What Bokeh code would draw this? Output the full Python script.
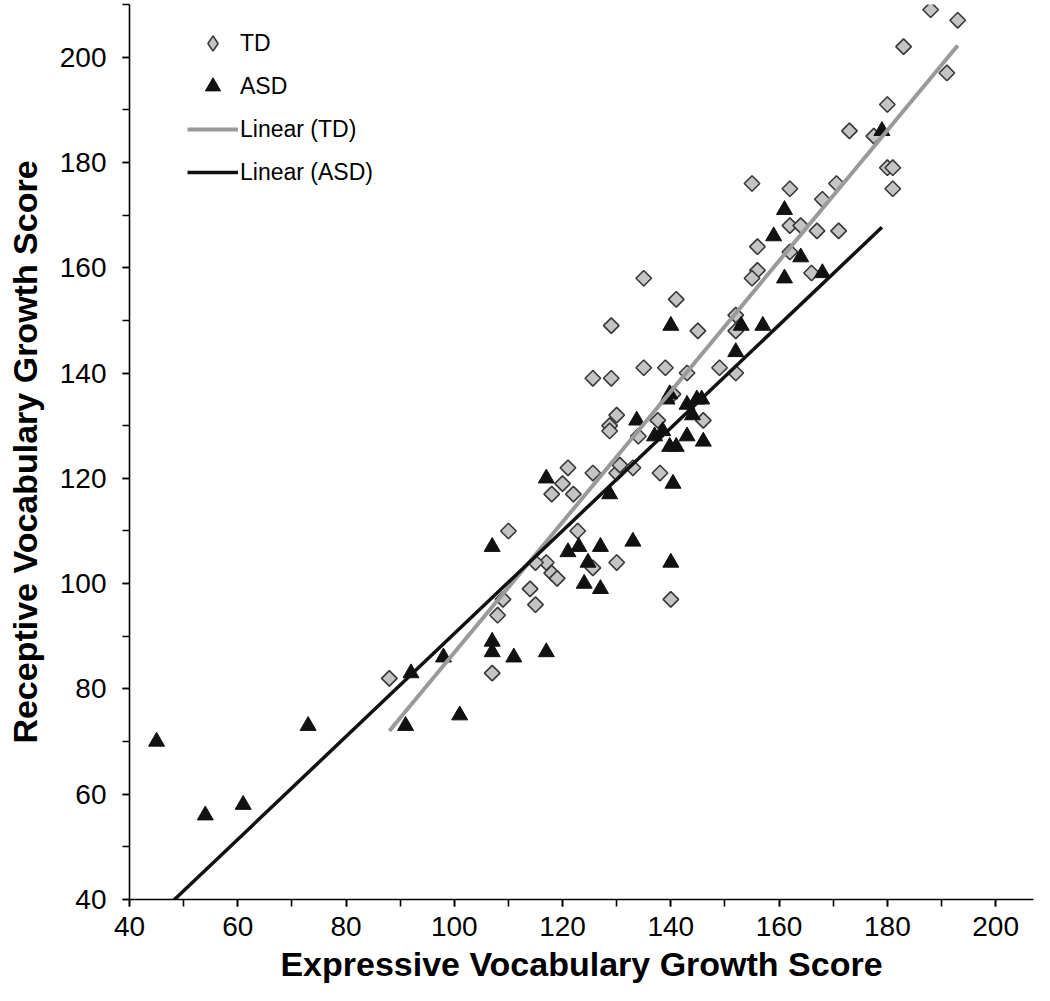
import math
import numpy as np
from bokeh.plotting import figure
from bokeh.models import SingleIntervalTicker, Legend, LegendItem, ColumnDataSource
from bokeh.embed import file_html
from bokeh.resources import INLINE

# ---- data ----
td_x = [188, 193, 183, 191, 180, 173, 177.5, 180, 181, 181,
        155, 162, 170.6, 168, 162, 164, 167, 171, 156, 162, 156, 155, 166,
        135, 141, 129, 145, 152, 152,
        125.6, 129, 135, 139, 143, 149, 152,
        140.4, 146, 130, 128.7, 128.7, 137.6, 134,
        138, 125.6, 121, 130, 130.6, 133, 122, 120, 118,
        110, 122.8, 117, 115, 118, 119, 114, 115, 108, 109, 130, 125.6, 140,
        107, 88]
td_y = [209, 207, 202, 197, 191, 186, 185, 179, 179, 175,
        176, 175, 176, 173, 168, 168, 167, 167, 164, 163, 159.5, 158, 159,
        158, 154, 149, 148, 151, 148,
        139, 139, 141, 141, 140, 141, 140,
        136, 131, 132, 130, 129, 131, 128,
        121, 121, 122, 121, 122.5, 122, 117, 119, 117,
        110, 110, 104, 104, 102, 101, 99, 96, 94, 97, 104, 103, 97,
        83, 82]

asd_x = [45, 54, 61, 73, 91, 101, 92, 98,
         107, 107, 111, 117,
         107, 117, 121, 123, 127, 133, 124.7, 140, 124, 127,
         128.7, 140.4, 133.7, 137, 138.5, 139.8, 141, 143, 146,
         139.8, 139.3, 144.8, 145.7, 143, 144,
         140, 152, 153, 157,
         161, 159, 164, 161, 168, 179]
asd_y = [70, 56, 58, 73, 73, 75, 83, 86,
         89, 87, 86, 87,
         107, 120, 106, 107, 107, 108, 104, 104, 100, 99,
         117, 119, 131, 128, 129, 126, 126, 128, 127,
         136, 135, 135, 135, 134, 132,
         149, 144, 149, 149,
         171, 166, 162, 158, 159, 186]

# linear trend lines (slope, intercept)
td_fit = [1.24, -37.1]
asd_fit = [0.977, -7.2]

x_range = [40, 207]
y_range = [40, 210]

FONT = "Liberation Sans"
TD_FILL = "#c4c4c4"
TD_LINE = "#383838"

p = figure(width=1034, height=985, x_range=tuple(x_range), y_range=tuple(y_range),
           output_backend="svg", toolbar_location=None,
           min_border_left=129, min_border_right=1, min_border_top=4, min_border_bottom=85)

p.outline_line_color = None
p.xgrid.visible = False
p.ygrid.visible = False
p.background_fill_color = "white"
p.border_fill_color = "white"

for ax in (p.xaxis[0], p.yaxis[0]):
    ax.ticker = SingleIntervalTicker(interval=20, num_minor_ticks=2)
    ax.axis_line_color = "black"
    ax.axis_line_width = 1.6
    ax.major_tick_line_color = "black"
    ax.minor_tick_line_color = "black"
    ax.major_tick_line_width = 1.6
    ax.minor_tick_line_width = 1.6
    ax.major_tick_in = 0
    ax.major_tick_out = 7
    ax.minor_tick_in = 0
    ax.minor_tick_out = 7
    ax.major_label_text_font = FONT
    ax.major_label_text_font_size = "28px"
    ax.major_label_text_color = "black"
    ax.axis_label_text_font = FONT
    ax.axis_label_text_font_style = "bold"
    ax.axis_label_text_font_size = "34px"
    ax.axis_label_text_color = "black"

p.xaxis.axis_label = "Expressive Vocabulary Growth Score"
p.yaxis.axis_label = "Receptive Vocabulary Growth Score"
p.xaxis.major_label_standoff = 10
p.yaxis.major_label_standoff = 16
p.xaxis.axis_label_standoff = 6
p.yaxis.axis_label_standoff = 13

td_src = ColumnDataSource(dict(x=td_x, y=td_y))
asd_src = ColumnDataSource(dict(x=asd_x, y=asd_y))

r_td = p.scatter("x", "y", source=td_src, marker="square", size=11, angle=math.pi / 4,
                 fill_color=TD_FILL, line_color=TD_LINE, line_width=1.6)
r_asd = p.scatter("x", "y", source=asd_src, marker="triangle", size=16,
                  fill_color="#111111", line_color="#111111", line_width=1)

tx = [min(td_x), max(td_x)]
ty = [td_fit[0] * v + td_fit[1] for v in tx]
ax_ = [min(asd_x), max(asd_x)]
ay = [asd_fit[0] * v + asd_fit[1] for v in ax_]

r_tdl = p.line(tx, ty, line_color="#9a9a9a", line_width=4)
r_asdl = p.line(ax_, ay, line_color="#111111", line_width=3.5)

# legend key for TD: a diamond-shaped key (nothing is drawn in the plot area, NaN position)
td_key_src = ColumnDataSource(dict(x=np.array([np.nan]), y=np.array([np.nan])))
r_td_key = p.scatter("x", "y", source=td_key_src, marker="diamond", size=11,
                     fill_color=TD_FILL, line_color=TD_LINE, line_width=1.6)

legend = Legend(items=[
    LegendItem(label="TD", renderers=[r_td_key]),
    LegendItem(label="ASD", renderers=[r_asd]),
    LegendItem(label="Linear (TD)", renderers=[r_tdl]),
    LegendItem(label="Linear (ASD)", renderers=[r_asdl]),
], location=(58, 708))
legend.border_line_color = None
legend.background_fill_alpha = 0
legend.padding = 0
legend.margin = 0
legend.spacing = 5
legend.glyph_width = 51
legend.glyph_height = 38
legend.label_height = 38
legend.label_standoff = 2
legend.label_text_font = FONT
legend.label_text_font_size = "23px"
legend.label_text_color = "black"
p.add_layout(legend, "center")

open("out.html", "w").write(file_html(p, INLINE))
